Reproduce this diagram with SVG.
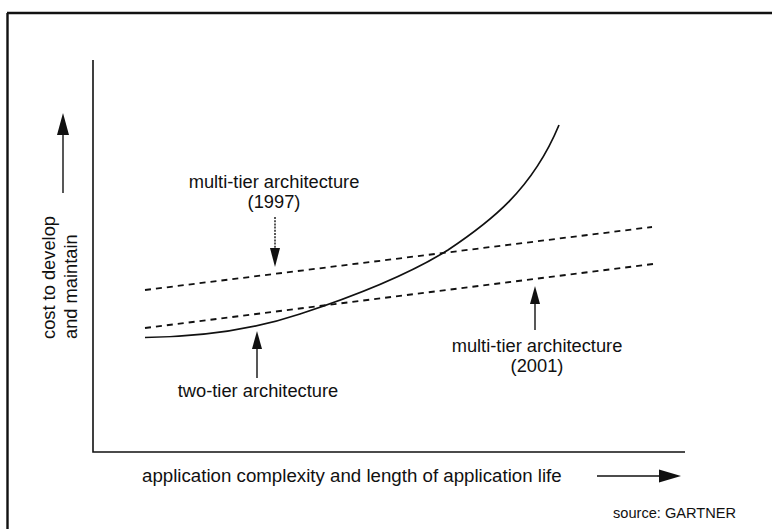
<svg xmlns="http://www.w3.org/2000/svg" width="772" height="529" viewBox="0 0 772 529">
  <defs>
    <style>
      .lbl { font-family: "Liberation Sans", Arial, Helvetica, sans-serif; font-size: 18.3px; fill: #111; }
      .xl { font-size: 18.7px; }
      .src { font-family: "Liberation Sans", Arial, Helvetica, sans-serif; font-size: 14.6px; fill: #111; }
      .frame { fill: none; stroke: #111; stroke-width: 2.4; }
      .axis { fill: none; stroke: #111; stroke-width: 1.6; }
      .dash { fill: none; stroke: #111; stroke-width: 1.8; stroke-dasharray: 6 5; }
      .curve { fill: none; stroke: #111; stroke-width: 1.7; }
      .shaft { fill: none; stroke: #111; stroke-width: 1.4; }
      .head { fill: #111; stroke: none; }
    </style>
  </defs>

  <rect width="772" height="529" fill="#fff"/>

  <!-- outer frame: top and left edges only -->
  <path class="frame" d="M7,13 H772 M7.5,13 V529"/>

  <!-- plot axes -->
  <g id="axes">
    <path class="axis" d="M93,60 V452 H685"/>
  </g>

  <!-- axis titles with direction arrows -->
  <g id="y-title">
    <text class="lbl" transform="translate(55,339) rotate(-90)">cost to develop</text>
    <text class="lbl" transform="translate(77,339) rotate(-90)">and maintain</text>
    <path class="shaft" d="M63,193 V132"/>
    <polygon class="head" points="63,113 57,135 69,135"/>
  </g>

  <g id="x-title">
    <text class="lbl xl" x="142" y="482">application complexity and length of application life</text>
    <path class="shaft" d="M597,476 H663"/>
    <polygon class="head" points="681,476 659,469.5 659,482.5"/>
  </g>

  <!-- cost curves -->
  <g id="connectors">
    <path id="multi-tier-1997" class="dash" d="M145,290 L652,227"/>
    <path id="multi-tier-2001" class="dash" d="M145,328 L653,264"/>
    <path id="two-tier" class="curve" d="M145,337.5 C205,337 255,329 300,314 C355,296 408,275 448,250 C490,222 532,190 559,125"/>

    <!-- label pointers -->
    <path class="shaft" d="M275,217 V250" stroke-dasharray="2 1.2"/>
    <polygon class="head" points="275,267 270,248 280,248"/>

    <path class="shaft" d="M257,378 V346"/>
    <polygon class="head" points="257,331 252,349 262,349"/>

    <path class="shaft" d="M535,330 V300"/>
    <polygon class="head" points="535,286 530,304 540,304"/>
  </g>

  <!-- curve labels -->
  <g id="label-1997">
    <text class="lbl" x="274" y="188" text-anchor="middle">multi-tier architecture</text>
    <text class="lbl" x="274" y="207.5" text-anchor="middle">(1997)</text>
  </g>

  <g id="label-two-tier">
    <text class="lbl" x="258" y="397" text-anchor="middle">two-tier architecture</text>
  </g>

  <g id="label-2001">
    <text class="lbl" x="537" y="352" text-anchor="middle">multi-tier architecture</text>
    <text class="lbl" x="537" y="372" text-anchor="middle">(2001)</text>
  </g>

  <g id="source">
    <text class="src" x="613" y="518">source: GARTNER</text>
  </g>
</svg>
